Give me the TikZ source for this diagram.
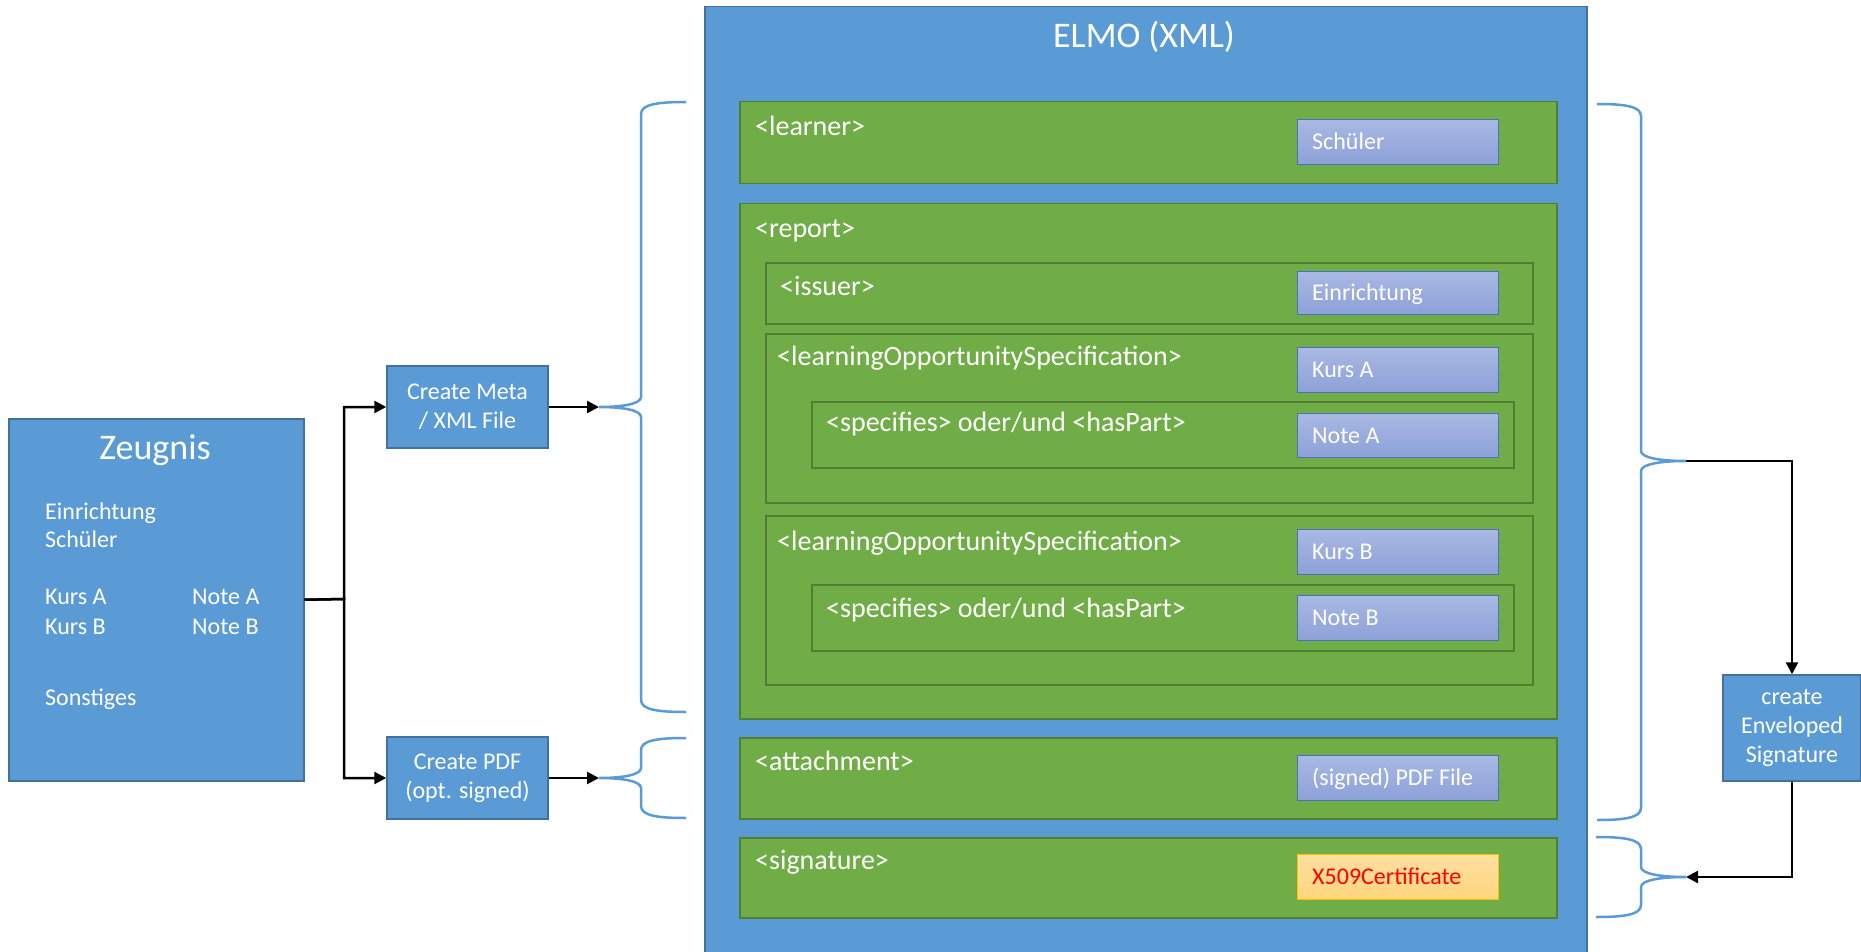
\documentclass[tikz,border=0pt]{standalone}
\usepackage{fontspec}
\setmainfont{Carlito}
\usetikzlibrary{arrows.meta}

\definecolor{elmoblue}{HTML}{5B9BD5}
\definecolor{elmoline}{HTML}{41719C}
\definecolor{xmlgreen}{HTML}{70AD47}
\definecolor{xmlline}{HTML}{507E32}
\definecolor{valtop}{HTML}{A9B8E3}
\definecolor{valbottom}{HTML}{8DA1D8}
\definecolor{valline}{HTML}{4472C4}
\definecolor{certtop}{HTML}{FFE09F}
\definecolor{certbottom}{HTML}{FFD47E}
\definecolor{certline}{HTML}{FFC000}

\newcommand\elmosmall{\fontsize{24}{29}\selectfont}
\newcommand\elmotag{\fontsize{28}{34}\selectfont}
\newcommand\elmotitle{\fontsize{36}{43}\selectfont}

% curly brace: #1 end x, #2 spine x, #3 tip x, #4 top y, #5 tip y, #6 bottom y
\newcommand\xmlbrace[6]{%
  \draw[curly] (#1,#4) .. controls ({#2+0.4*(#1-#2)},#4) and (#2,#4+2) .. (#2,#4+12)
    -- (#2,#5-10) .. controls (#2,#5-3) and ({#2+0.45*(#3-#2)},#5) .. (#3,#5)
    .. controls ({#2+0.45*(#3-#2)},#5) and (#2,#5+3) .. (#2,#5+10)
    -- (#2,#6-12) .. controls (#2,#6-2) and ({#2+0.4*(#1-#2)},#6) .. (#1,#6);}

\begin{document}
\begin{tikzpicture}[
    x=1pt, y=-1pt,
    every node/.style={font=\elmosmall, text=white},
    procbox/.style={draw=elmoline, fill=elmoblue, line width=1.5pt,
                align=center, inner sep=0pt},
    container/.style={draw=xmlline, fill=xmlgreen, line width=1.5pt,
                anchor=north west, inner sep=0pt},
    valbox/.style={draw=valline, line width=1pt, top color=valtop, bottom color=valbottom,
                anchor=north west, minimum width=201pt, minimum height=45pt, inner sep=0pt},
    certbox/.style={valbox, draw=certline, top color=certtop, bottom color=certbottom},
    plain/.style={anchor=west, inner sep=0pt, text height=19pt, text depth=4pt},
    tag/.style={plain, font=\elmotag},
    arr/.style={->, >={Triangle[length=12pt, width=12pt]}, line width=2.5pt, black},
    curly/.style={elmoblue, line width=2.5pt},
  ]
  \useasboundingbox (0,0) rectangle (1861,952);

  % === Zeugnis ===
  \node[procbox, anchor=north west, minimum width=295pt, minimum height=362pt] (zeugnis) at (8,418) {};
  \node[font=\elmotitle, anchor=base] (ztitle) at (155,459) {Zeugnis};
  \node[plain] (zeinr)  at (45,512) {Einrichtung};
  \node[plain] (zschue) at (45,540) {Schüler};
  \node[plain] (zkursa) at (45,597) {Kurs A};
  \node[plain] (zkursb) at (45,627) {Kurs B};
  \node[plain] (znotea) at (192,597) {Note A};
  \node[plain] (znoteb) at (192,627) {Note B};
  \node[plain] (zsonst) at (45,698) {Sonstiges};

  % === Process steps ===
  \node[procbox, minimum width=161pt, minimum height=82pt] (meta) at (467.5,407) {Create Meta\\/ XML File};
  \node[procbox, minimum width=161pt, minimum height=82pt] (pdf)  at (467.5,778) {Create PDF\\(opt. signed)};
  \node[procbox, minimum width=138pt, minimum height=106pt] (envsig) at (1792,728) {create\\Enveloped\\Signature};

  % === ELMO document ===
  \node[procbox, anchor=north west, minimum width=882pt, minimum height=960pt] (elmo) at (704,6) {};
  \node[font=\elmotitle, anchor=base] (etitle) at (1144,48) {ELMO (XML)};

  \node[container, minimum width=817pt, minimum height=82pt]  (learner) at (739,101) {};
  \node[container, minimum width=817pt, minimum height=515pt] (report)  at (739,203) {};
  \node[container, minimum width=767pt, minimum height=61pt]  (issuer)  at (765,262) {};
  \node[container, minimum width=767pt, minimum height=169pt] (losa)    at (765,333) {};
  \node[container, minimum width=702pt, minimum height=66pt]  (speca)   at (811,401) {};
  \node[container, minimum width=767pt, minimum height=169pt] (losb)    at (765,515) {};
  \node[container, minimum width=702pt, minimum height=66pt]  (specb)   at (811,584) {};
  \node[container, minimum width=817pt, minimum height=81pt]  (attach)  at (739,737) {};
  \node[container, minimum width=817pt, minimum height=80pt]  (sig)     at (739,837) {};

  \node[tag] (tlearner) at (755,128) {<learner>};
  \node[tag] (treport)  at (755,230) {<report>};
  \node[tag] (tissuer)  at (780,288) {<issuer>};
  \node[tag] (tlosa)    at (777,358) {<learningOpportunitySpecification>};
  \node[tag] (tspeca)   at (826,424) {<specifies> oder/und <hasPart>};
  \node[tag] (tlosb)    at (777,543) {<learningOpportunitySpecification>};
  \node[tag] (tspecb)   at (826,610) {<specifies> oder/und <hasPart>};
  \node[tag] (tattach)  at (755,763) {<attachment>};
  \node[tag] (tsig)     at (755,862) {<signature>};

  \node[valbox] (vschue) at (1297,119) {};
  \node[valbox, minimum height=43pt] (veinr) at (1297,271) {};
  \node[valbox] (vkursa) at (1297,347) {};
  \node[valbox, minimum height=44pt] (vnotea) at (1297,413) {};
  \node[valbox] (vkursb) at (1297,529) {};
  \node[valbox] (vnoteb) at (1297,595) {};
  \node[valbox] (vpdf)   at (1297,755) {};
  \node[certbox] (vcert) at (1297,854) {};

  \node[plain] (lschue) at ([xshift=15pt]vschue.west) {Schüler};
  \node[plain] (leinr)  at ([xshift=15pt]veinr.west)  {Einrichtung};
  \node[plain] (lkursa) at ([xshift=15pt]vkursa.west) {Kurs A};
  \node[plain] (lnotea) at ([xshift=15pt]vnotea.west) {Note A};
  \node[plain] (lkursb) at ([xshift=15pt]vkursb.west) {Kurs B};
  \node[plain] (lnoteb) at ([xshift=15pt]vnoteb.west) {Note B};
  \node[plain] (lpdf)   at ([xshift=15pt]vpdf.west)   {(signed) PDF File};
  \node[plain, text=red] (lcert) at ([xshift=15pt]vcert.west) {X509Certificate};

  % === Braces ===
  \xmlbrace{686}{641}{599}{102}{407}{712}
  \xmlbrace{686}{641}{599}{738}{778}{818}
  \xmlbrace{1597}{1641}{1686}{104}{461}{820}
  \xmlbrace{1596}{1641}{1686}{837}{877}{917}
  \coordinate (metatip) at (599,407);
  \coordinate (pdftip)  at (599,778);
  \coordinate (elmotip) at (1686,461);
  \coordinate (sigtip)  at (1686,877);

  % === Arrows ===
  \coordinate (split) at (344,599);
  \draw[arr] (zeugnis.east) -- (split) |- (meta);
  \draw[arr] (zeugnis.east) -- (split) |- (pdf);
  \draw[arr] (meta) -- (metatip);
  \draw[arr] (pdf)  -- (pdftip);
  \draw[arr] (elmotip) -| (envsig);
  \draw[arr] (envsig) |- (sigtip);

\end{tikzpicture}
\end{document}
